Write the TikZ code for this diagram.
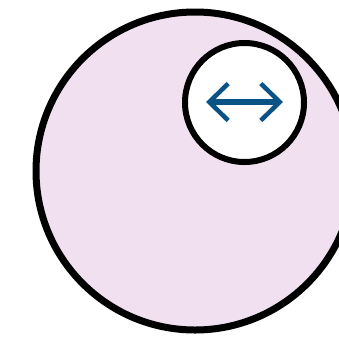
\documentclass[tikz,border=0pt]{standalone}
\usetikzlibrary{arrows.meta}
\definecolor{bubble}{HTML}{F0E0F0}
\definecolor{arrowblue}{HTML}{0B5386}
\tikzset{barb/.tip={Straight Barb[length=19pt,width=37pt,line width=4.5pt]}}
\begin{document}
\begin{tikzpicture}[x=1pt,y=-1pt]
\useasboundingbox (0,0) rectangle (339,338);
\clip (0,0) rectangle (339,338);
\coordinate (big) at (195,171);
\coordinate (small) at (244.5,102.5);
\draw[line width=7pt,fill=bubble] (big) circle[radius=159];
\draw[line width=6pt,fill=white] (small) circle[radius=59.5];
\coordinate (L) at (206,102);
\coordinate (R) at (283,102);
\draw[line width=5.5pt,arrowblue,barb-barb] (L)--(R);
\end{tikzpicture}
\end{document}
